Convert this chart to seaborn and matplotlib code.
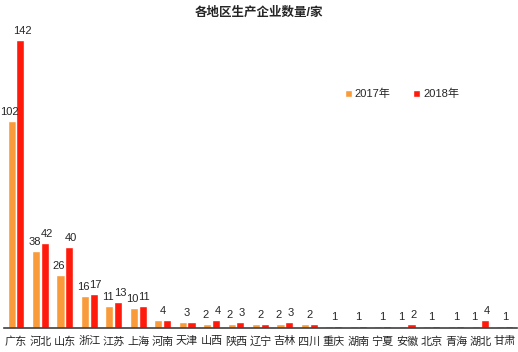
import pandas as pd
import matplotlib
matplotlib.use('Agg')
import matplotlib.pyplot as plt
import seaborn as sns

regions = ['广东', '河北', '山东', '浙江', '江苏', '上海', '河南', '天津', '山西', '陕西', '辽宁',
           '吉林', '四川', '重庆', '湖南', '宁夏', '安徽', '北京', '青海', '湖北', '甘肃']
y2017 = [102, 38, 26, 16, 11, 10, 4, 3, 2, 2, 2, 2, 2, 1, 1, 1, 1, 1, 1, 1, 1]
y2018 = [142, 42, 40, 17, 13, 11, 4, 3, 4, 3, 2, 3, 2, 1, 1, 1, 2, 1, 1, 4, 1]
years = ['2017年', '2018年']
colors = ['#F99B3A', '#FF1A0C']

df = pd.DataFrame({'地区': regions * 2,
                   '数量': y2017 + y2018,
                   '年份': [years[0]] * len(regions) + [years[1]] * len(regions)})

sns.set_style('white')
plt.rcParams['font.family'] = ['Liberation Sans', 'Noto Sans CJK SC', 'DejaVu Sans']

fig = plt.figure(figsize=(5.18, 3.52), dpi=100)
ax = fig.add_axes([0.0073, 0.068, 0.991, 0.875])
sns.barplot(data=df, x='地区', y='数量', hue='年份', palette=colors, width=0.72, gap=0.08,
            saturation=1, ax=ax, legend=True)

ax.set_xlim(-0.5, len(regions) - 0.5)
ax.set_ylim(0, 151.9)

# 数据标签：两年相同时只标一个
off = 0.25
for i, (a, b) in enumerate(zip(y2017, y2018)):
    if a == b:
        ax.text(i, a + 2, str(a), ha='center', va='bottom', fontsize=8)
    else:
        ax.text(i - off, a + 2, str(a), ha='center', va='bottom', fontsize=8)
        ax.text(i + off, b + 2, str(b), ha='center', va='bottom', fontsize=8)

fig.text(0.5, 0.965, '各地区生产企业数量/家', ha='center', va='center',
         fontsize=9, fontweight='bold')
ax.set_xlabel('')
ax.set_ylabel('')
ax.set_yticks([])
ax.tick_params(axis='x', length=0, labelsize=8, pad=6)
for s in ['top', 'right', 'left']:
    ax.spines[s].set_visible(False)
ax.spines['bottom'].set_color('#404040')
ax.spines['bottom'].set_linewidth(1.2)

ax.legend(loc='upper left', bbox_to_anchor=(0.645, 0.81), ncol=2, frameon=False,
          fontsize=8, handlelength=0.6, handleheight=0.6, handletextpad=0.3,
          columnspacing=2.0, title=None)

plt.savefig('out.png', dpi=100)
